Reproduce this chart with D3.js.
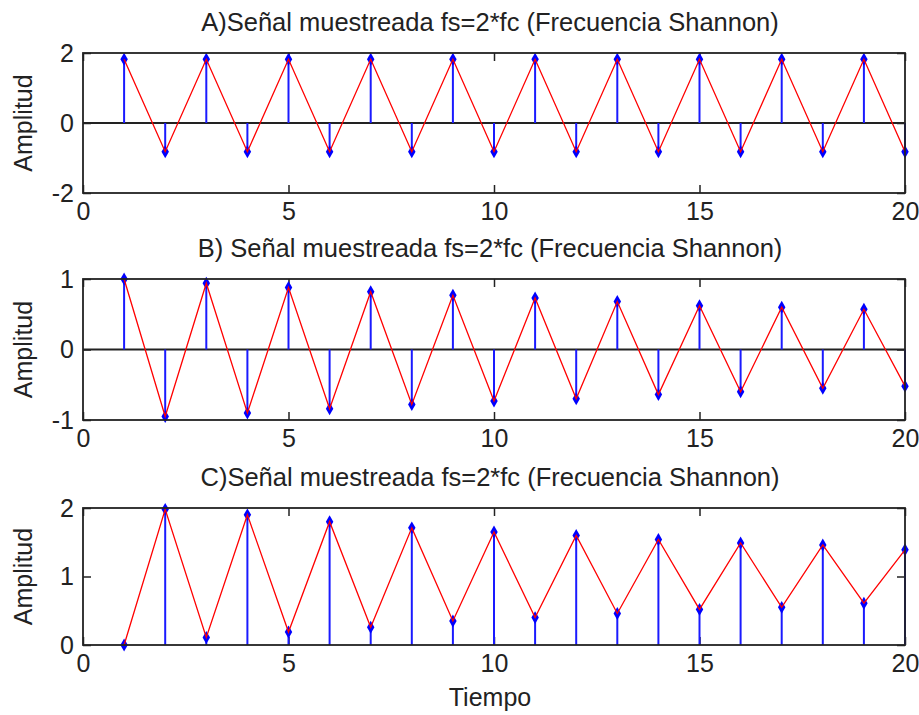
<!DOCTYPE html>
<html>
<head>
<meta charset="utf-8">
<script src="https://cdn.jsdelivr.net/npm/d3@7"></script>
<style>
  html, body { margin: 0; padding: 0; background: #fff; }
  svg { display: block; }
  text { font-family: "Liberation Sans", Arial, sans-serif; fill: #222; }
</style>
</head>
<body>
<svg id="chart" width="919" height="715"></svg>
<script>
// ---- data ----
const samples = [1,2,3,4,5,6,7,8,9,10,11,12,13,14,15,16,17,18,19,20];
const seriesA = [1.82,-0.82,1.82,-0.82,1.82,-0.82,1.82,-0.82,1.82,-0.82,1.82,-0.82,1.82,-0.82,1.82,-0.82,1.82,-0.82,1.82,-0.82];
const seriesB = [1.00,-0.95,0.94,-0.90,0.88,-0.84,0.82,-0.78,0.77,-0.73,0.73,-0.70,0.68,-0.64,0.62,-0.60,0.60,-0.55,0.57,-0.52];
const seriesC = [0.00,1.98,0.11,1.90,0.19,1.80,0.26,1.71,0.35,1.65,0.40,1.60,0.46,1.54,0.52,1.49,0.55,1.46,0.61,1.39];
const titles = [
  "A)Señal muestreada fs=2*fc (Frecuencia Shannon)",
  "B) Señal muestreada fs=2*fc (Frecuencia Shannon)",
  "C)Señal muestreada fs=2*fc (Frecuencia Shannon)"
];
const xTicks = [0,5,10,15,20];
const yTicksA = [-2,0,2];
const yTicksB = [-1,0,1];
const yTicksC = [0,1,2];
const yDomainA = [-2,2];
const yDomainB = [-1,1];
const yDomainC = [0,2];
const yLabel = "Amplitud";
const xLabel = "Tiempo";

// ---- layout ----
const svg = d3.select("#chart");
const left = 83, right = 905;
const panels = [
  {title: titles[0], values: seriesA, yDomain: yDomainA, yTicks: yTicksA, top: 53, bottom: 193},
  {title: titles[1], values: seriesB, yDomain: yDomainB, yTicks: yTicksB, top: 279, bottom: 420},
  {title: titles[2], values: seriesC, yDomain: yDomainC, yTicks: yTicksC, top: 508, bottom: 645}
];
const fontSize = 25;
const titleSize = 25.5;
const tickLen = 8;
const fmt = (d) => String(d);

panels.forEach((p, i) => {
  const x = d3.scaleLinear().domain([0, 20]).range([left, right]);
  const y = d3.scaleLinear().domain(p.yDomain).range([p.bottom, p.top]);
  const g = svg.append("g");

  // title
  g.append("text")
    .attr("x", (left + right) / 2 - 4)
    .attr("y", p.top - 22)
    .attr("text-anchor", "middle")
    .style("font-size", titleSize + "px")
    .text(p.title);

  // y label
  g.append("text")
    .attr("transform", `translate(32,${(p.top + p.bottom) / 2}) rotate(-90)`)
    .attr("text-anchor", "middle")
    .style("font-size", fontSize + "px")
    .text(yLabel);

  // axes (inward ticks)
  const axB = d3.axisBottom(x).tickValues(xTicks).tickSize(-tickLen).tickPadding(9).tickFormat(fmt);
  const axT = d3.axisTop(x).tickValues(xTicks).tickSize(-tickLen).tickFormat("");
  const axL = d3.axisLeft(y).tickValues(p.yTicks).tickSize(-tickLen).tickPadding(9).tickFormat(fmt);
  const axR = d3.axisRight(y).tickValues(p.yTicks).tickSize(-tickLen).tickFormat("");

  const gb = g.append("g").attr("transform", `translate(0,${p.bottom})`).call(axB);
  const gt = g.append("g").attr("transform", `translate(0,${p.top})`).call(axT);
  const gl = g.append("g").attr("transform", `translate(${left},0)`).call(axL);
  const gr = g.append("g").attr("transform", `translate(${right},0)`).call(axR);
  [gb, gt, gl, gr].forEach(a => {
    a.select(".domain").remove();
    a.selectAll(".tick line").attr("stroke", "#222").attr("stroke-width", 1.5);
    a.selectAll(".tick text").style("font-size", fontSize + "px").attr("fill", "#222")
      .style("font-family", "'Liberation Sans', Arial, sans-serif");
  });
  gb.selectAll(".tick text").attr("dy", "0.71em");

  // zero baseline
  if (p.yDomain[0] < 0) {
    g.append("line")
      .attr("x1", left).attr("x2", right)
      .attr("y1", y(0)).attr("y2", y(0))
      .attr("stroke", "#222").attr("stroke-width", 1.8);
  }

  // stems
  g.append("g").selectAll("line")
    .data(samples)
    .join("line")
    .attr("x1", (d) => x(d)).attr("x2", (d) => x(d))
    .attr("y1", y(0)).attr("y2", (d, j) => y(p.values[j]))
    .attr("stroke", "#1a1aff").attr("stroke-width", 2);

  // markers
  const sym = d3.symbol().type(d3.symbolDiamond).size(48);
  g.append("g").selectAll("path")
    .data(samples)
    .join("path")
    .attr("transform", (d, j) => `translate(${x(d)},${y(p.values[j])})`)
    .attr("d", sym)
    .attr("fill", "#0000ff");

  // red line
  const line = d3.line().x((d) => x(d)).y((d, j) => y(p.values[j]));
  g.append("path")
    .datum(samples)
    .attr("d", line)
    .attr("fill", "none")
    .attr("stroke", "#ff0000")
    .attr("stroke-width", 1.3);

  // box
  g.append("rect")
    .attr("x", left).attr("y", p.top)
    .attr("width", right - left).attr("height", p.bottom - p.top)
    .attr("fill", "none").attr("stroke", "#222").attr("stroke-width", 1.8);

  if (i === panels.length - 1) {
    g.append("text")
      .attr("x", (left + right) / 2 - 4)
      .attr("y", 706)
      .attr("text-anchor", "middle")
      .style("font-size", fontSize + "px")
      .text(xLabel);
  }
});
</script>
</body>
</html>
